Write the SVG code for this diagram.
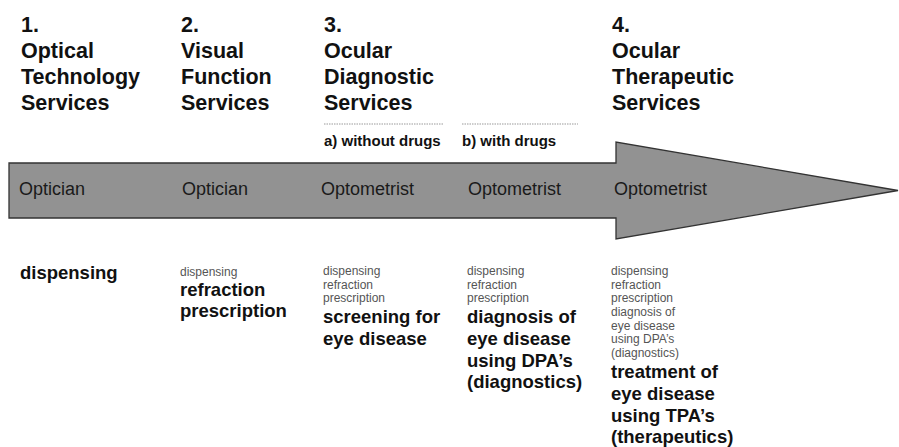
<svg xmlns="http://www.w3.org/2000/svg" width="899" height="447" viewBox="0 0 899 447">
<style>
text{font-family:"Liberation Sans",Arial,sans-serif}
.h{font-size:21.5px;font-weight:bold;fill:#111}
.sub{font-size:15px;font-weight:bold;fill:#111}
.lab{font-size:18px;fill:#1a1a1a}
.big{font-size:18.5px;font-weight:bold;fill:#111}
.sm{font-size:12px;fill:#555}
.dash{stroke:#999;stroke-width:1;stroke-dasharray:1.5 1;fill:none}
</style>
<rect width="899" height="447" fill="#fff"/>
<g id="connectors">
<polygon id="arrow" points="9,163 616,163 616,142 898,190.5 616,239 616,218 9,218" fill="#929292" stroke="#333" stroke-width="1.3" stroke-linejoin="miter"/>
</g>
<g id="col1">
<text class="h" x="21" y="32">1.</text>
<text class="h" x="21" y="58">Optical</text>
<text class="h" x="21" y="84">Technology</text>
<text class="h" x="21" y="110">Services</text>
<text class="lab" x="19" y="195">Optician</text>
<text class="big" x="20" y="279">dispensing</text>
</g>
<g id="col2">
<text class="h" x="181" y="32">2.</text>
<text class="h" x="181" y="58">Visual</text>
<text class="h" x="181" y="84">Function</text>
<text class="h" x="181" y="110">Services</text>
<text class="lab" x="182" y="195">Optician</text>
<text class="sm" x="180" y="276">dispensing</text>
<text class="big" x="180" y="296">refraction</text>
<text class="big" x="180" y="317">prescription</text>
</g>
<g id="col3">
<text class="h" x="324" y="32">3.</text>
<text class="h" x="324" y="58">Ocular</text>
<text class="h" x="324" y="84">Diagnostic</text>
<text class="h" x="324" y="110">Services</text>
<line class="dash" x1="324" y1="124" x2="444" y2="124"/>
<text class="sub" x="324" y="146">a) without drugs</text>
<text class="lab" x="321" y="195">Optometrist</text>
<text class="sm" x="323" y="275">dispensing</text>
<text class="sm" x="323" y="288.5">refraction</text>
<text class="sm" x="323" y="302">prescription</text>
<text class="big" x="323" y="323">screening for</text>
<text class="big" x="323" y="345">eye disease</text>
</g>
<g id="col3b">
<line class="dash" x1="462" y1="124" x2="578" y2="124"/>
<text class="sub" x="462" y="146">b) with drugs</text>
<text class="lab" x="468" y="195">Optometrist</text>
<text class="sm" x="467" y="275">dispensing</text>
<text class="sm" x="467" y="288.5">refraction</text>
<text class="sm" x="467" y="302">prescription</text>
<text class="big" x="467" y="323">diagnosis of</text>
<text class="big" x="467" y="345">eye disease</text>
<text class="big" x="467" y="367">using DPA’s</text>
<text class="big" x="467" y="388">(diagnostics)</text>
</g>
<g id="col4">
<text class="h" x="612" y="32">4.</text>
<text class="h" x="612" y="58">Ocular</text>
<text class="h" x="612" y="84">Therapeutic</text>
<text class="h" x="612" y="110">Services</text>
<text class="lab" x="614" y="195">Optometrist</text>
<text class="sm" x="611" y="275">dispensing</text>
<text class="sm" x="611" y="288.5">refraction</text>
<text class="sm" x="611" y="302">prescription</text>
<text class="sm" x="611" y="316">diagnosis of</text>
<text class="sm" x="611" y="330">eye disease</text>
<text class="sm" x="611" y="343">using DPA’s</text>
<text class="sm" x="611" y="357">(diagnostics)</text>
<text class="big" x="611" y="378">treatment of</text>
<text class="big" x="611" y="400">eye disease</text>
<text class="big" x="611" y="422">using TPA’s</text>
<text class="big" x="611" y="443">(therapeutics)</text>
</g>
</svg>
